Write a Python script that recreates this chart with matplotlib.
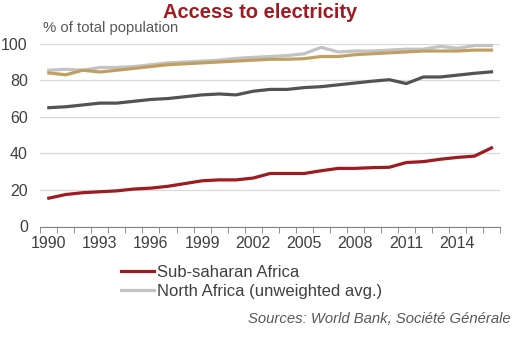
import matplotlib.pyplot as plt
import numpy as np
from matplotlib.lines import Line2D

plt.rcParams['font.family'] = ['Liberation Sans', 'DejaVu Sans']

years = list(range(1990, 2017))

sub_saharan = [15.5, 17.5, 18.5, 19, 19.5, 20.5, 21, 22, 23.5, 25, 25.5, 25.5, 26.5,
               29, 29, 29, 30.5, 31.8, 31.8, 32.2, 32.4, 35, 35.5, 36.8, 37.8, 38.5, 43]
north_africa = [85.5, 86, 85.5, 87, 87, 87.5, 88.5, 89.5, 90, 90.5, 91, 92, 92.5,
                93, 93.5, 94.5, 98, 95.5, 96, 96, 96.5, 97, 97, 98.5, 97.5, 99, 99]
gold_series = [84, 83, 85.5, 84.5, 85.5, 86.5, 87.5, 88.5, 89, 89.5, 90, 90.5, 91,
               91.5, 91.5, 91.8, 93, 93, 94, 94.5, 95, 95.5, 96, 96, 96, 96.5, 96.5]
dark_series = [65, 65.5, 66.5, 67.5, 67.5, 68.5, 69.5, 70, 71, 72, 72.5, 72, 74,
               75, 75, 76, 76.5, 77.5, 78.5, 79.5, 80.3, 78.2, 81.8, 81.8, 82.8, 83.8, 84.6]

yticks = [0, 20, 40, 60, 80, 100]

RED = '#9e1b22'
LGRAY = '#c3c3c3'
GOLD = '#c0a062'
DGRAY = '#545254'
TXT = '#404040'

fig = plt.figure(figsize=(5.14, 3.37), dpi=100)
ax = fig.add_axes([40.3 / 514, 1 - 226.5 / 337, (500 - 40.3) / 514, (226.5 - 43.7) / 337])

x = np.arange(len(years))
ax.plot(x, north_africa, color=LGRAY, lw=2.3, clip_on=False, zorder=3)
ax.plot(x, gold_series, color=GOLD, lw=2.3, clip_on=False, zorder=4)
ax.plot(x, dark_series, color=DGRAY, lw=2.3, clip_on=False, zorder=4)
ax.plot(x, sub_saharan, color=RED, lw=2.3, clip_on=False, zorder=5)

ax.set_xlim(-0.5, len(years) - 0.5)
ax.set_ylim(0, 100)
ax.set_yticks(yticks)
ax.set_yticklabels([str(v) for v in yticks])
ax.grid(axis='y', color='#d9d9d9', lw=0.9)
ax.set_axisbelow(True)

# year labels every 3 years, ticks on category boundaries
ax.set_xticks(x[::3])
ax.set_xticklabels([str(y) for y in years[::3]])
ax.set_xticks(np.arange(-0.5, len(years)), minor=True)
ax.tick_params(axis='x', which='major', length=0, pad=7, labelsize=11.5, labelcolor=TXT)
ax.tick_params(axis='x', which='minor', length=4, color='#808080', direction='out')
ax.tick_params(axis='y', length=0, pad=9, labelsize=11.5, labelcolor=TXT)

for side in ['top', 'right', 'left']:
    ax.spines[side].set_visible(False)
ax.spines['bottom'].set_color('#808080')

fig.text(260 / 514, 1 - 12 / 337, 'Access to electricity', ha='center', va='center',
         fontsize=14.5, fontweight='bold', color=RED)
fig.text(43 / 514, 1 - 28 / 337, '% of total population', ha='left', va='center',
         fontsize=10.7, color='#595959')

handles = [Line2D([], [], color=RED, lw=2.3), Line2D([], [], color=LGRAY, lw=2.3)]
fig.legend(handles, ['Sub-saharan Africa', 'North Africa (unweighted avg.)'],
           loc='upper left', bbox_to_anchor=(121 / 514, 1 - 265 / 337), frameon=False,
           fontsize=12, handlelength=2.0, handletextpad=0.15, labelspacing=0.22,
           borderaxespad=0, borderpad=0, labelcolor=TXT)

fig.text(511 / 514, 1 - 319 / 337, 'Sources: World Bank, Société Générale', ha='right',
         va='center', fontsize=10.7, style='italic', color='#595959')

fig.savefig('out.png', dpi=100)
